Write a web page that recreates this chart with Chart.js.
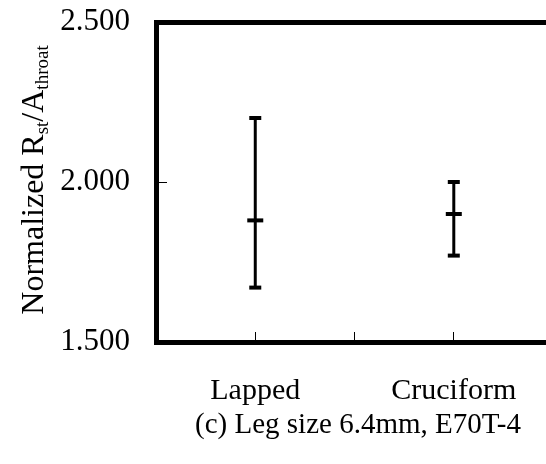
<!DOCTYPE html>
<html>
<head>
<meta charset="utf-8">
<script src="https://cdn.jsdelivr.net/npm/chart.js@4.4.1/dist/chart.umd.min.js"></script>
<style>
  html, body { margin: 0; padding: 0; background: #fff; overflow: hidden; }
  #wrap { width: 572px; height: 464px; }
</style>
</head>
<body>
<div id="wrap"><canvas id="c" width="572" height="464"></canvas></div>
<script>
// Joint types and the spread of normalized strength for each
const categories = ['Lapped', 'Cruciform'];
const lowValues  = [1.67, 1.77];
const meanValues = [1.88, 1.90];
const highValues = [2.20, 2.00];

// Axis ticks
const yTicks = [1.5, 2.0, 2.5];
const yTickLabels = ['1.500', '2.000', '2.500'];
const xTickPositions = [-0.5, 0, 0.5, 1];

// Texts
const caption = '(c) Leg size 6.4mm, E70T-4';
const yTitleParts = [
  { text: 'Normalized R', sub: false },
  { text: 'st', sub: true },
  { text: '/A', sub: false },
  { text: 'throat', sub: true }
];

const serif = "'Liberation Serif', 'Times New Roman', serif";
Chart.defaults.font.family = serif;
Chart.defaults.color = '#000';

const idx = categories.map((_, i) => i);

// Vertical whiskers, one line per joint type
const whiskers = idx.map(i => ({
  type: 'scatter',
  showLine: true,
  data: [{ x: i, y: lowValues[i] }, { x: i, y: highValues[i] }],
  borderColor: '#000',
  borderWidth: 3,
  pointRadius: 0,
  order: 2
}));

function capSet(values, r) {
  return {
    type: 'scatter',
    data: idx.map(i => ({ x: i, y: values[i] })),
    pointStyle: 'line',
    pointRadius: r,
    pointBorderWidth: 4,
    pointBorderColor: '#000',
    pointBackgroundColor: '#000',
    showLine: false,
    order: 1
  };
}

// Scales keep a fixed box; no extra room for overhanging labels
function noPad(scale) {
  scale.paddingTop = 0;
  scale.paddingBottom = 0;
  scale.paddingLeft = 0;
  scale.paddingRight = 0;
}

const yTitlePlugin = {
  id: 'yTitle',
  afterDraw(chart) {
    const ctx = chart.ctx;
    const mainFont = '32px ' + serif;
    const subFont = '19px ' + serif;
    ctx.save();
    let total = 0;
    const widths = yTitleParts.map(p => {
      ctx.font = p.sub ? subFont : mainFont;
      const w = ctx.measureText(p.text).width;
      total += w;
      return w;
    });
    const cy = (chart.chartArea.top + chart.chartArea.bottom) / 2 - 2;
    const baseX = 43;
    ctx.translate(baseX, cy + total / 2);
    ctx.rotate(-Math.PI / 2);
    ctx.fillStyle = '#000';
    ctx.textBaseline = 'alphabetic';
    ctx.textAlign = 'left';
    let x = 0;
    yTitleParts.forEach((p, k) => {
      ctx.font = p.sub ? subFont : mainFont;
      ctx.fillText(p.text, x, p.sub ? 5 : 0);
      x += widths[k];
    });
    ctx.restore();
  }
};

new Chart(document.getElementById('c'), {
  type: 'scatter',
  data: {
    datasets: [capSet(highValues, 6), capSet(meanValues, 8), capSet(lowValues, 6), ...whiskers]
  },
  options: {
    responsive: false,
    animation: false,
    events: [],
    layout: { padding: 0 },
    plugins: { legend: { display: false }, tooltip: { enabled: false } },
    scales: {
      x: {
        type: 'linear',
        position: 'bottom',
        min: -0.5,
        max: 1.535,
        afterBuildTicks(scale) { scale.ticks = xTickPositions.map(v => ({ value: v })); },
        afterFit(scale) { scale.height = 122; noPad(scale); },
        ticks: {
          font: { size: 30 },
          padding: 41,
          maxRotation: 0,
          autoSkip: false,
          callback(v) { return Number.isInteger(v) ? categories[v] : ''; }
        },
        grid: { drawOnChartArea: false, tickLength: -10, color: '#000', lineWidth: 1 },
        border: { display: true, color: '#000', width: 5 },
        title: { display: true, text: caption, font: { size: 29 }, padding: { top: 0, bottom: 21 } }
      },
      xTop: {
        type: 'linear',
        position: 'top',
        min: -0.5,
        max: 1.535,
        afterFit(scale) { scale.height = 22; noPad(scale); },
        ticks: { display: false },
        grid: { drawOnChartArea: false, drawTicks: false },
        border: { display: true, color: '#000', width: 5 }
      },
      y: {
        type: 'linear',
        min: 1.5,
        max: 2.5,
        afterBuildTicks(scale) { scale.ticks = yTicks.map(v => ({ value: v })); },
        afterFit(scale) { scale.width = 156; noPad(scale); },
        ticks: {
          font: { size: 31 },
          padding: 37,
          callback(v) { const k = yTicks.indexOf(v); return k >= 0 ? yTickLabels[k] : ''; }
        },
        grid: { drawOnChartArea: false, tickLength: -11, color: '#000', lineWidth: 1 },
        border: { display: true, color: '#000', width: 5 }
      }
    }
  },
  plugins: [yTitlePlugin]
});
</script>
</body>
</html>
